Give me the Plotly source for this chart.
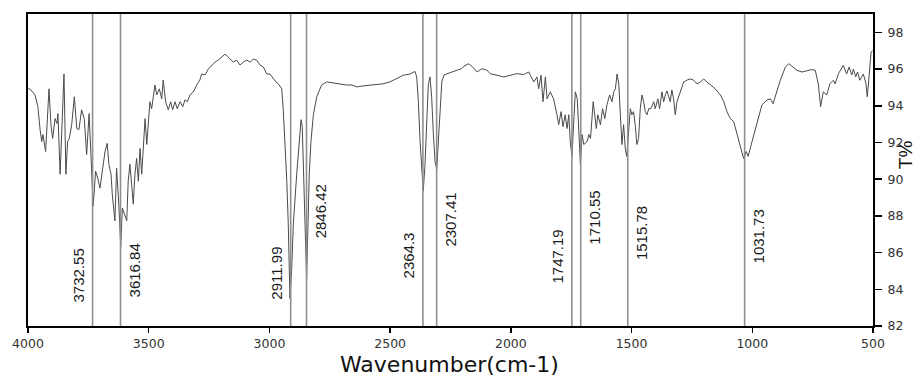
import plotly.graph_objects as go

# FTIR spectrum: wavenumber (cm-1) and transmittance (%)
wavenumber = [
    4000, 3988, 3971, 3959, 3950, 3943, 3938, 3927, 3913, 3905, 3898, 3888, 3880, 3876, 3867, 3860,
    3851, 3843, 3836, 3829, 3819, 3808, 3798, 3789, 3778, 3767, 3757, 3747, 3736, 3730, 3720, 3711,
    3702, 3692, 3681, 3672, 3665, 3656, 3651, 3640, 3633, 3623, 3616, 3609, 3602, 3591, 3585, 3578,
    3570, 3564, 3557, 3550, 3543, 3536, 3529, 3522, 3515, 3508, 3502, 3495, 3488, 3482, 3474, 3467,
    3456, 3446, 3440, 3430, 3419, 3409, 3401, 3391, 3382, 3370, 3359, 3350, 3340, 3329, 3315, 3301,
    3288, 3281, 3267, 3253, 3239, 3225, 3212, 3198, 3184, 3174, 3163, 3150, 3136, 3122, 3108, 3094,
    3080, 3067, 3053, 3039, 3025, 3011, 2998, 2984, 2973, 2963, 2949, 2943, 2935, 2928, 2922, 2915,
    2908, 2901, 2887, 2876, 2869, 2864, 2857, 2850, 2846, 2842, 2835, 2828, 2818, 2804, 2784, 2763,
    2735, 2708, 2680, 2658, 2639, 2612, 2583, 2556, 2528, 2501, 2473, 2446, 2418, 2397, 2390, 2383,
    2376, 2369, 2363, 2356, 2349, 2342, 2335, 2328, 2321, 2314, 2307, 2300, 2293, 2286, 2277, 2259,
    2244, 2224, 2204, 2194, 2175, 2158, 2140, 2120, 2099, 2085, 2057, 2030, 2002, 1975, 1947, 1926,
    1919, 1905, 1892, 1885, 1875, 1867, 1857, 1850, 1837, 1823, 1809, 1802, 1792, 1784, 1775, 1767,
    1760, 1754, 1747, 1740, 1733, 1725, 1717, 1712, 1705, 1698, 1684, 1677, 1670, 1659, 1654, 1646,
    1640, 1629, 1620, 1611, 1602, 1591, 1581, 1574, 1567, 1560, 1553, 1546, 1540, 1533, 1526, 1520,
    1512, 1505, 1499, 1492, 1485, 1478, 1471, 1464, 1457, 1450, 1443, 1436, 1429, 1420, 1408, 1402,
    1391, 1384, 1374, 1367, 1360, 1353, 1340, 1333, 1326, 1319, 1312, 1298, 1284, 1270, 1257, 1243,
    1229, 1215, 1201, 1188, 1174, 1153, 1132, 1118, 1105, 1091, 1077, 1063, 1050, 1042, 1036, 1025,
    1017, 1001, 987, 973, 960, 939, 925, 914, 899, 884, 863, 849, 836, 815, 794, 773,
    754, 739, 726, 717, 706, 692, 678, 664, 657, 643, 630, 623, 609, 599, 588, 581,
    572, 564, 555, 540, 529, 524, 518, 508, 502,
]
transmittance = [
    94.97, 94.86, 94.59, 93.95, 92.70, 92.05, 92.43, 91.51, 94.92, 92.97, 92.22, 93.30, 93.03, 93.57, 90.27, 92.97,
    95.73, 90.27, 92.05, 92.22, 92.97, 94.49, 92.76, 92.70, 93.78, 93.30, 91.35, 93.57, 90.59, 88.54, 90.43, 90.05,
    89.51, 90.59, 91.51, 91.95, 90.81, 90.27, 89.19, 87.73, 90.59, 88.43, 86.32, 88.43, 88.11, 87.73, 89.89, 90.81,
    89.62, 88.65, 90.27, 91.13, 89.89, 91.67, 90.27, 92.05, 93.30, 91.89, 93.30, 94.22, 93.84, 94.38, 95.13, 94.59,
    94.92, 94.38, 95.40, 94.22, 93.78, 94.22, 93.78, 94.22, 93.84, 94.22, 93.95, 94.32, 94.22, 94.59, 94.76, 95.13,
    95.40, 95.73, 95.68, 96.00, 96.22, 96.38, 96.49, 96.65, 96.81, 96.70, 96.54, 96.38, 96.49, 96.22, 96.38, 96.49,
    96.38, 96.54, 96.49, 96.22, 96.11, 95.73, 95.73, 95.46, 95.30, 95.19, 94.92, 93.84, 92.05, 89.89, 87.57, 83.51,
    85.03, 87.57, 90.27, 92.05, 93.24, 92.86, 89.35, 85.73, 84.59, 86.65, 90.27, 92.05, 93.51, 94.49, 95.13, 95.30,
    95.24, 95.19, 95.13, 95.13, 95.03, 95.08, 95.13, 95.19, 95.20, 95.30, 95.47, 95.66, 95.73, 95.87, 95.57, 94.22,
    92.05, 90.43, 89.35, 90.70, 92.97, 95.13, 95.57, 94.49, 92.43, 90.97, 90.54, 92.05, 94.22, 95.30, 95.68, 95.75,
    95.84, 95.93, 96.02, 96.16, 96.29, 96.11, 95.84, 96.02, 95.93, 95.75, 95.66, 95.57, 95.66, 95.75, 95.70, 95.84,
    95.66, 95.30, 95.57, 94.92, 95.66, 94.22, 95.57, 94.38, 94.76, 94.38, 93.51, 92.97, 93.68, 92.86, 93.51, 92.76,
    93.51, 92.05, 91.24, 92.76, 94.76, 94.38, 92.05, 90.81, 92.43, 91.89, 92.05, 92.43, 92.22, 94.22, 93.68, 92.76,
    93.51, 92.97, 93.84, 93.30, 94.05, 94.59, 94.22, 94.76, 94.92, 95.73, 95.19, 93.13, 91.89, 92.97, 91.67, 91.24,
    92.43, 93.84, 93.51, 93.68, 92.97, 91.89, 92.22, 93.84, 94.59, 94.22, 93.68, 93.51, 93.84, 93.84, 94.22, 93.84,
    94.38, 93.84, 94.76, 94.22, 94.59, 94.81, 94.22, 94.86, 94.38, 93.51, 94.22, 94.76, 95.30, 95.40, 95.46, 95.40,
    95.19, 95.30, 95.46, 95.30, 95.13, 94.92, 94.59, 94.22, 93.68, 93.30, 93.14, 92.43, 91.89, 91.51, 91.13, 91.51,
    91.24, 92.05, 92.76, 93.51, 94.05, 94.31, 94.38, 94.11, 94.76, 95.39, 96.11, 96.29, 96.16, 95.93, 95.84, 95.93,
    95.97, 95.93, 95.13, 93.95, 94.76, 94.59, 95.20, 95.39, 95.20, 95.75, 96.02, 96.20, 95.73, 96.11, 95.68, 96.00,
    95.57, 95.84, 95.39, 95.73, 95.20, 94.49, 95.30, 96.92, 97.01,
]

# Marked peaks and their label settings
peak_labels = ["3732.55", "3616.84", "2911.99", "2846.42", "2364.3",
               "2307.41", "1747.19", "1710.55", "1515.78", "1031.73"]
peak_positions = [3732.55, 3616.84, 2911.99, 2846.42, 2364.3,
                  2307.41, 1747.19, 1710.55, 1515.78, 1031.73]
label_heights = [84.73, 85.0, 84.89, 88.22, 85.84, 87.78, 85.78, 87.89, 87.05, 86.86]
label_sides = [-1, 1, -1, 1, -1, 1, -1, 1, 1, 1]

x_ticks = [4000, 3500, 3000, 2500, 2000, 1500, 1000, 500]
y_ticks = [82, 84, 86, 88, 90, 92, 94, 96, 98]

fig = go.Figure()
fig.add_trace(go.Scatter(
    x=wavenumber, y=transmittance, mode="lines",
    line=dict(color="#4a4a4a", width=1),
    hoverinfo="skip", showlegend=False,
))

for pos, lab, h, side in zip(peak_positions, peak_labels, label_heights, label_sides):
    fig.add_shape(type="line", xref="x", yref="paper", x0=pos, x1=pos, y0=0, y1=1,
                  line=dict(color="#8f8f8f", width=1.6), layer="above")
    fig.add_annotation(x=pos, y=h, xref="x", yref="y", text=lab, textangle=-90,
                       showarrow=False, xanchor="center", yanchor="middle",
                       xshift=14 * side,
                       font=dict(family="Liberation Sans, Arial, sans-serif", size=15, color="#1a1a1a"))

fig.add_annotation(x=0.4994, y=-0.124, xref="paper", yref="paper",
                   text="Wavenumber(cm-1)", showarrow=False,
                   xanchor="center", yanchor="middle",
                   font=dict(family="DejaVu Sans, sans-serif", size=22, color="#111111"))
fig.add_annotation(x=1.038, y=0.548, xref="paper", yref="paper",
                   text="T%", textangle=-90, showarrow=False,
                   xanchor="center", yanchor="middle",
                   font=dict(family="Liberation Sans, Arial, sans-serif", size=19, color="#111111"))

fig.update_xaxes(
    range=[4000, 500], tickvals=x_ticks, ticktext=[str(v) for v in x_ticks],
    ticks="outside", ticklen=5, tickwidth=1.5, tickcolor="black",
    showline=True, linewidth=2, linecolor="black", mirror=True,
    showgrid=False, zeroline=False,
    tickfont=dict(family="DejaVu Sans, sans-serif", size=12.5, color="#333333"),
)
fig.update_yaxes(
    range=[82, 99], side="right", tickvals=y_ticks, ticktext=[str(v) for v in y_ticks],
    ticks="outside", ticklen=7, tickwidth=1.5, tickcolor="black",
    showline=True, linewidth=2, linecolor="black", mirror=True,
    showgrid=False, zeroline=False, ticklabelstandoff=3,
    tickfont=dict(family="DejaVu Sans, sans-serif", size=12.5, color="#333333"),
)
fig.update_layout(
    width=917, height=376,
    margin=dict(l=28, r=44, t=12, b=50),
    paper_bgcolor="white", plot_bgcolor="white",
    showlegend=False, hovermode=False,
)

fig.write_html(
    "out.html",
    config={"displayModeBar": False, "staticPlot": True},
    post_script="document.body.style.margin='0';document.body.style.overflow='hidden';",
)
